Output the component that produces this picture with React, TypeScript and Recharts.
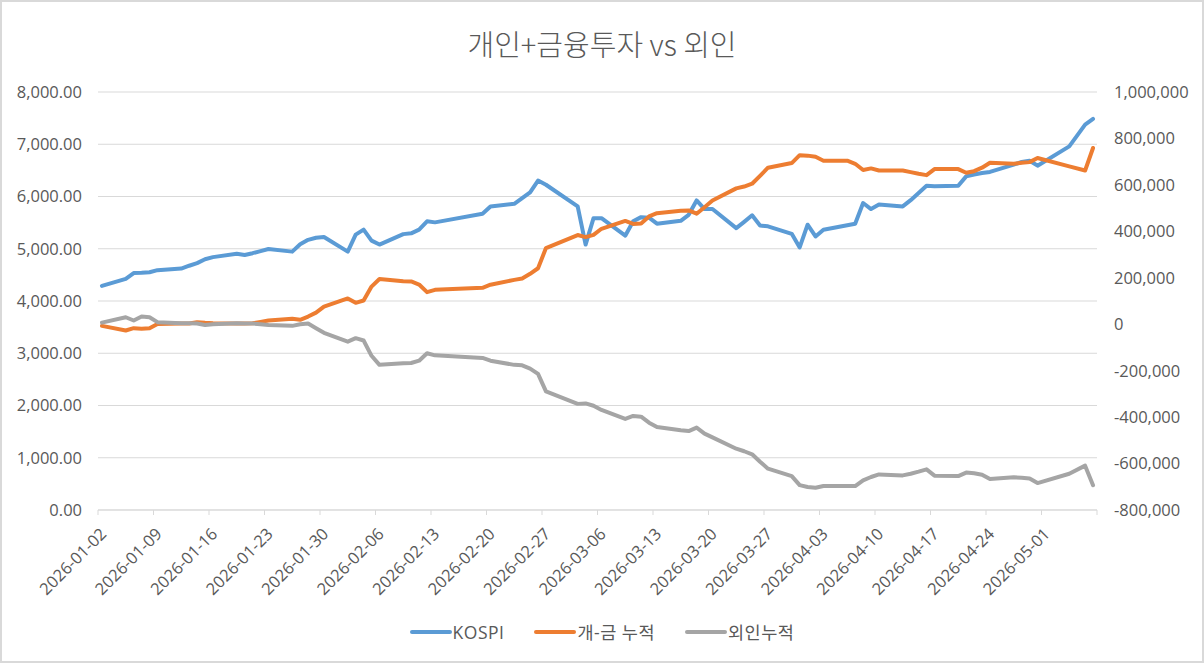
import React from 'react';
import { LineChart, Line, XAxis, YAxis, CartesianGrid, Legend } from 'recharts';

// Colors (Office palette)
const BLUE = '#5B9BD5';
const ORANGE = '#ED7D31';
const GRAY = '#A5A5A5';
const TEXT = '#595959';
const GRID = '#D9D9D9';

// trading days
const dates = [
  '2026-01-02', '2026-01-05', '2026-01-06', '2026-01-07', '2026-01-08', '2026-01-09',
  '2026-01-12', '2026-01-13', '2026-01-14', '2026-01-15', '2026-01-16',
  '2026-01-19', '2026-01-20', '2026-01-21', '2026-01-22', '2026-01-23',
  '2026-01-26', '2026-01-27', '2026-01-28', '2026-01-29', '2026-01-30',
  '2026-02-02', '2026-02-03', '2026-02-04', '2026-02-05', '2026-02-06',
  '2026-02-09', '2026-02-10', '2026-02-11', '2026-02-12', '2026-02-13',
  '2026-02-19', '2026-02-20',
  '2026-02-23', '2026-02-24', '2026-02-25', '2026-02-26', '2026-02-27',
  '2026-03-03', '2026-03-04', '2026-03-05', '2026-03-06',
  '2026-03-09', '2026-03-10', '2026-03-11', '2026-03-12', '2026-03-13',
  '2026-03-16', '2026-03-17', '2026-03-18', '2026-03-19', '2026-03-20',
  '2026-03-23', '2026-03-24', '2026-03-25', '2026-03-26', '2026-03-27',
  '2026-03-30', '2026-03-31', '2026-04-01', '2026-04-02', '2026-04-03',
  '2026-04-06', '2026-04-07', '2026-04-08', '2026-04-09', '2026-04-10',
  '2026-04-13', '2026-04-14', '2026-04-15', '2026-04-16', '2026-04-17',
  '2026-04-20', '2026-04-21', '2026-04-22', '2026-04-23', '2026-04-24',
  '2026-04-27', '2026-04-28', '2026-04-29', '2026-04-30',
  '2026-05-04', '2026-05-06', '2026-05-07',
];

// KOSPI index (left axis)
const kospi = [
  4290, 4425, 4535, 4540, 4550, 4590,
  4620, 4675, 4725, 4800, 4840,
  4905, 4880, 4915, 4955, 4995,
  4945, 5085, 5170, 5210, 5225,
  4945, 5270, 5365, 5155, 5080,
  5280, 5295, 5365, 5525, 5505,
  5670, 5810,
  5860, 5970, 6080, 6305, 6225,
  5810, 5080, 5585, 5585,
  5250, 5525, 5605, 5595, 5480,
  5535, 5650, 5925, 5760, 5760,
  5395, 5515, 5640, 5445, 5430,
  5285, 5025, 5460, 5235, 5365,
  5450, 5480, 5875, 5760, 5845,
  5810, 5930, 6065, 6205, 6195,
  6205, 6385, 6420, 6450, 6470,
  6610, 6660, 6685, 6590,
  6960, 7375, 7485,
];

// 개인+금융투자 cumulative net buying (right axis)
const indivFin = [
  -7000, -27000, -17000, -19000, -17000, 1000,
  3000, 3000, 9000, 6000, 4000,
  3000, 3000, 4000, 10000, 16000,
  24000, 19000, 33000, 50000, 76000,
  111000, 92000, 102000, 162000, 195000,
  185000, 184000, 171000, 138000, 148000,
  157000, 170000,
  191000, 197000, 217000, 241000, 328000,
  384000, 375000, 385000, 411000,
  445000, 432000, 434000, 464000, 478000,
  489000, 490000, 476000, 504000, 533000,
  585000, 593000, 605000, 639000, 674000,
  694000, 728000, 726000, 721000, 704000,
  704000, 691000, 664000, 671000, 662000,
  662000, 655000, 648000, 642000, 668000,
  668000, 652000, 659000, 674000, 695000,
  691000, 695000, 698000, 716000,
  680000, 662000, 759000,
];

// 외인 cumulative net buying (right axis)
const foreign = [
  7000, 30000, 16000, 33000, 30000, 9000,
  4000, 4000, 3000, -3000, 0,
  4000, 3000, 3000, 0, -3000,
  -7000, 0, 3000, -17000, -37000,
  -75000, -60000, -70000, -136000, -175000,
  -168000, -167000, -157000, -125000, -134000,
  -145000, -157000,
  -175000, -177000, -191000, -214000, -289000,
  -343000, -341000, -351000, -369000,
  -408000, -395000, -398000, -424000, -443000,
  -457000, -460000, -445000, -471000, -487000,
  -536000, -547000, -560000, -592000, -622000,
  -654000, -693000, -701000, -704000, -697000,
  -697000, -697000, -672000, -658000, -647000,
  -651000, -644000, -635000, -625000, -652000,
  -654000, -639000, -642000, -648000, -667000,
  -659000, -661000, -664000, -684000,
  -644000, -609000, -693000,
];

const leftTicks = [0, 1000, 2000, 3000, 4000, 5000, 6000, 7000, 8000];
const rightTicks = [-800000, -600000, -400000, -200000, 0, 200000, 400000, 600000, 800000, 1000000];

const START = Date.UTC(2026, 0, 2);
const DAY = 86400000;
const LAST_DAY = 125; // 2026-05-07

const dayOf = (s: string) => {
  const [y, m, d] = s.split('-').map(Number);
  return Math.round((Date.UTC(y, m - 1, d) - START) / DAY);
};

const dateLabel = (day: number) => new Date(START + day * DAY).toISOString().slice(0, 10);

const data = dates.map((date, i) => ({
  day: dayOf(date),
  kospi: kospi[i],
  indivFin: indivFin[i],
  foreign: foreign[i],
}));

// weekly tick marks sit between day slots (Excel date axis style)
const xTicks = Array.from({ length: 19 }, (_, k) => k * 7 - 0.5);

const fmtLeft = (v: number) =>
  v.toLocaleString('en-US', { minimumFractionDigits: 2, maximumFractionDigits: 2 });
const fmtRight = (v: number) => v.toLocaleString('en-US');

const DateTick = (props: any) => {
  const { x, y, payload } = props;
  const day = payload.value + 0.5;
  if (day > LAST_DAY - 6) return null;
  const ax = x + 9.5;
  const ay = y + 18;
  return (
    <text
      x={ax}
      y={ay}
      textAnchor="end"
      transform={`rotate(-45 ${ax} ${ay})`}
      fill={TEXT}
      fontSize={16.5}
    >
      {dateLabel(day)}
    </text>
  );
};

const LegendContent = (props: any) => {
  const { payload } = props;
  return (
    <div style={{ display: 'flex', justifyContent: 'center', alignItems: 'center', gap: 30 }}>
      {payload.map((entry: any) => (
        <div key={entry.value} style={{ display: 'flex', alignItems: 'center' }}>
          <svg width={42} height={8}>
            <line x1={2} y1={4} x2={40} y2={4} stroke={entry.color} strokeWidth={4} strokeLinecap="round" />
          </svg>
          <span style={{ marginLeft: 1, fontSize: 17.5, color: TEXT, lineHeight: '22px', letterSpacing: 0.5 }}>
            {entry.value}
          </span>
        </div>
      ))}
    </div>
  );
};

export default function App() {
  return (
    <div
      style={{
        position: 'absolute',
        left: 0,
        top: 0,
        width: 1204,
        height: 663,
        background: '#fff',
        fontFamily: "'Open Sans', 'Noto Sans CJK KR', sans-serif",
      }}
    >
      <div
        style={{
          position: 'absolute',
          top: 29,
          left: 0,
          width: 1204,
          textAlign: 'center',
          fontSize: 29,
          lineHeight: '29px',
          fontWeight: 300,
          color: TEXT,
          fontFamily: "'Noto Sans CJK KR', sans-serif",
        }}
      >
        개인+금융투자 vs 외인
      </div>
      <LineChart width={1204} height={663} data={data} margin={{ top: 92, right: 7, bottom: 53, left: 0 }}>
        <CartesianGrid yAxisId="left" vertical={false} stroke={GRID} />
        <XAxis
          type="number"
          dataKey="day"
          domain={[-0.5, LAST_DAY + 0.5]}
          ticks={xTicks}
          interval={0}
          allowDataOverflow
          height={100}
          tickSize={5}
          axisLine={{ stroke: GRID }}
          tickLine={{ stroke: GRID }}
          tick={<DateTick />}
        />
        <YAxis
          yAxisId="left"
          domain={[0, 8000]}
          ticks={leftTicks}
          interval={0}
          width={98}
          axisLine={false}
          tickLine={false}
          tickMargin={10}
          tickFormatter={fmtLeft}
          tick={{ fill: TEXT, fontSize: 16.5 }}
        />
        <YAxis
          yAxisId="right"
          orientation="right"
          domain={[-800000, 1000000]}
          ticks={rightTicks}
          interval={0}
          width={100}
          axisLine={false}
          tickLine={false}
          tickMargin={11}
          tickFormatter={fmtRight}
          tick={{ fill: TEXT, fontSize: 16.5, textAnchor: 'start' }}
        />
        <Legend
          layout="horizontal"
          verticalAlign="middle"
          align="center"
          wrapperStyle={{ top: 621, left: 0, width: 1204 }}
          content={<LegendContent />}
        />
        <Line
          yAxisId="left"
          type="linear"
          dataKey="kospi"
          name="KOSPI"
          stroke={BLUE}
          strokeWidth={4}
          strokeLinejoin="round"
          strokeLinecap="round"
          dot={false}
          isAnimationActive={false}
        />
        <Line
          yAxisId="right"
          type="linear"
          dataKey="indivFin"
          name="개-금 누적"
          stroke={ORANGE}
          strokeWidth={4}
          strokeLinejoin="round"
          strokeLinecap="round"
          dot={false}
          isAnimationActive={false}
        />
        <Line
          yAxisId="right"
          type="linear"
          dataKey="foreign"
          name="외인누적"
          stroke={GRAY}
          strokeWidth={4}
          strokeLinejoin="round"
          strokeLinecap="round"
          dot={false}
          isAnimationActive={false}
        />
      </LineChart>
      <div
        style={{
          position: 'absolute',
          left: 0,
          top: 0,
          width: 1204,
          height: 663,
          boxSizing: 'border-box',
          border: `2px solid ${GRID}`,
          pointerEvents: 'none',
        }}
      />
    </div>
  );
}
